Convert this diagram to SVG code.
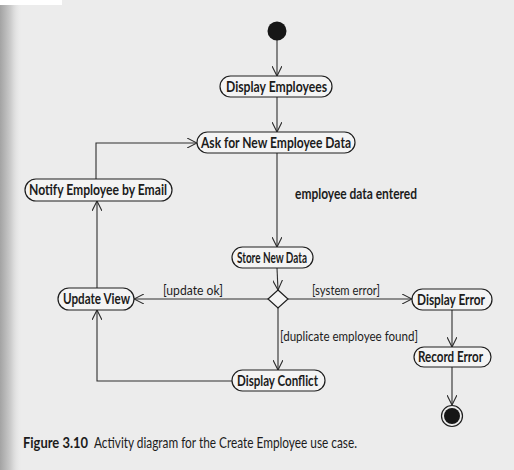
<svg xmlns="http://www.w3.org/2000/svg" width="514" height="470" viewBox="0 0 514 470">
  <defs>
    <linearGradient id="edge" x1="0" y1="0" x2="1" y2="0">
      <stop offset="0" stop-color="#a3a3a3"/>
      <stop offset="0.5" stop-color="#cdcdcd"/>
      <stop offset="1" stop-color="#ebebeb" stop-opacity="0"/>
    </linearGradient>
    <marker id="open" viewBox="0 0 10 10" refX="10" refY="5" markerWidth="10" markerHeight="10" markerUnits="userSpaceOnUse" orient="auto">
      <path d="M0,0 L10,5 L0,10" fill="none" stroke="#2a2a2a" stroke-width="1.1"/>
    </marker>
    <style>
      .node rect { fill: #f4f4f4; stroke: #1e1e1e; stroke-width: 1.2; }
      .node text { font-family: Lato, "Liberation Sans", sans-serif; font-weight: 700; font-size: 14.5px; fill: #1c1c1c; }
      .edges path { fill: none; stroke: #2e2e2e; stroke-width: 1.1; marker-end: url(#open); }
      .guard { font-family: Lato, "Liberation Sans", sans-serif; font-size: 13.5px; fill: #1c1c1c; }
      .event { font-family: Lato, "Liberation Sans", sans-serif; font-weight: 700; font-size: 14.5px; fill: #1c1c1c; }
      .cap { font-family: Lato, "Liberation Sans", sans-serif; font-size: 15px; fill: #1c1c1c; }
    </style>
  </defs>

  <!-- page -->
  <rect x="0" y="0" width="514" height="470" fill="#ececec"/>
  <rect x="0" y="0" width="22" height="470" fill="url(#edge)"/>
  <rect x="0" y="0" width="62" height="5" fill="#ffffff"/>

  <!-- connectors -->
  <g id="connectors" class="edges">
    <path d="M277,40 L277,76"/>
    <path d="M277,97 L277,132"/>
    <path d="M277,153 L277,247"/>
    <path d="M277,268 L278,290"/>
    <path d="M268,299 L134,299"/>
    <path d="M288,299 L412,299"/>
    <path d="M278,308 L278,370"/>
    <path d="M232,381 L97,381 L97,310"/>
    <path d="M97,288 L97,201"/>
    <path d="M96,179 L96,143 L197,143"/>
    <path d="M452,310 L452,347"/>
    <path d="M452,367 L452,405"/>
    <text class="event" x="295" y="199" textLength="122" lengthAdjust="spacingAndGlyphs">employee data entered</text>
    <text class="guard" x="163" y="295" textLength="60" lengthAdjust="spacingAndGlyphs">[update ok]</text>
    <text class="guard" x="312" y="295" textLength="68" lengthAdjust="spacingAndGlyphs">[system error]</text>
    <text class="guard" x="280" y="341" textLength="138" lengthAdjust="spacingAndGlyphs">[duplicate employee found]</text>
  </g>

  <!-- start / end -->
  <g id="start">
    <circle cx="277" cy="31" r="9.5" fill="#161616"/>
  </g>
  <g id="end">
    <circle cx="452" cy="416" r="10.5" fill="none" stroke="#1e1e1e" stroke-width="1.2"/>
    <circle cx="452" cy="416" r="8" fill="#161616"/>
  </g>

  <!-- decision -->
  <g id="decision">
    <path d="M278,290 L288,299 L278,308 L268,299 Z" fill="#f4f4f4" stroke="#1e1e1e" stroke-width="1.2"/>
  </g>

  <g id="display-employees" class="node">
    <rect x="220" y="76" width="112" height="21" rx="10.5"/>
    <text x="226" y="91.5" textLength="101" lengthAdjust="spacingAndGlyphs">Display Employees</text>
  </g>
  <g id="ask-data" class="node">
    <rect x="197" y="132" width="158" height="21" rx="10.5"/>
    <text x="201" y="147.5" textLength="150" lengthAdjust="spacingAndGlyphs">Ask for New Employee Data</text>
  </g>
  <g id="notify-email" class="node">
    <rect x="25" y="179" width="147" height="22" rx="11"/>
    <text x="29" y="194.5" textLength="138" lengthAdjust="spacingAndGlyphs">Notify Employee by Email</text>
  </g>
  <g id="store-data" class="node">
    <rect x="232" y="247" width="81" height="21" rx="10.5"/>
    <text x="237" y="262.5" textLength="70" lengthAdjust="spacingAndGlyphs">Store New Data</text>
  </g>
  <g id="update-view" class="node">
    <rect x="58" y="288" width="76" height="22" rx="11"/>
    <text x="63" y="304" textLength="67" lengthAdjust="spacingAndGlyphs">Update View</text>
  </g>
  <g id="display-error" class="node">
    <rect x="412" y="289" width="80" height="21" rx="10.5"/>
    <text x="417" y="304.5" textLength="68" lengthAdjust="spacingAndGlyphs">Display Error</text>
  </g>
  <g id="record-error" class="node">
    <rect x="414" y="347" width="77" height="20" rx="10"/>
    <text x="418" y="362" textLength="65" lengthAdjust="spacingAndGlyphs">Record Error</text>
  </g>
  <g id="display-conflict" class="node">
    <rect x="232" y="370" width="93" height="21" rx="10.5"/>
    <text x="237" y="385.5" textLength="81" lengthAdjust="spacingAndGlyphs">Display Conflict</text>
  </g>

  <!-- caption -->
  <text class="cap" x="23" y="448"><tspan font-weight="700" textLength="65" lengthAdjust="spacingAndGlyphs">Figure 3.10</tspan><tspan x="94" textLength="263" lengthAdjust="spacingAndGlyphs">Activity diagram for the Create Employee use case.</tspan></text>
</svg>
